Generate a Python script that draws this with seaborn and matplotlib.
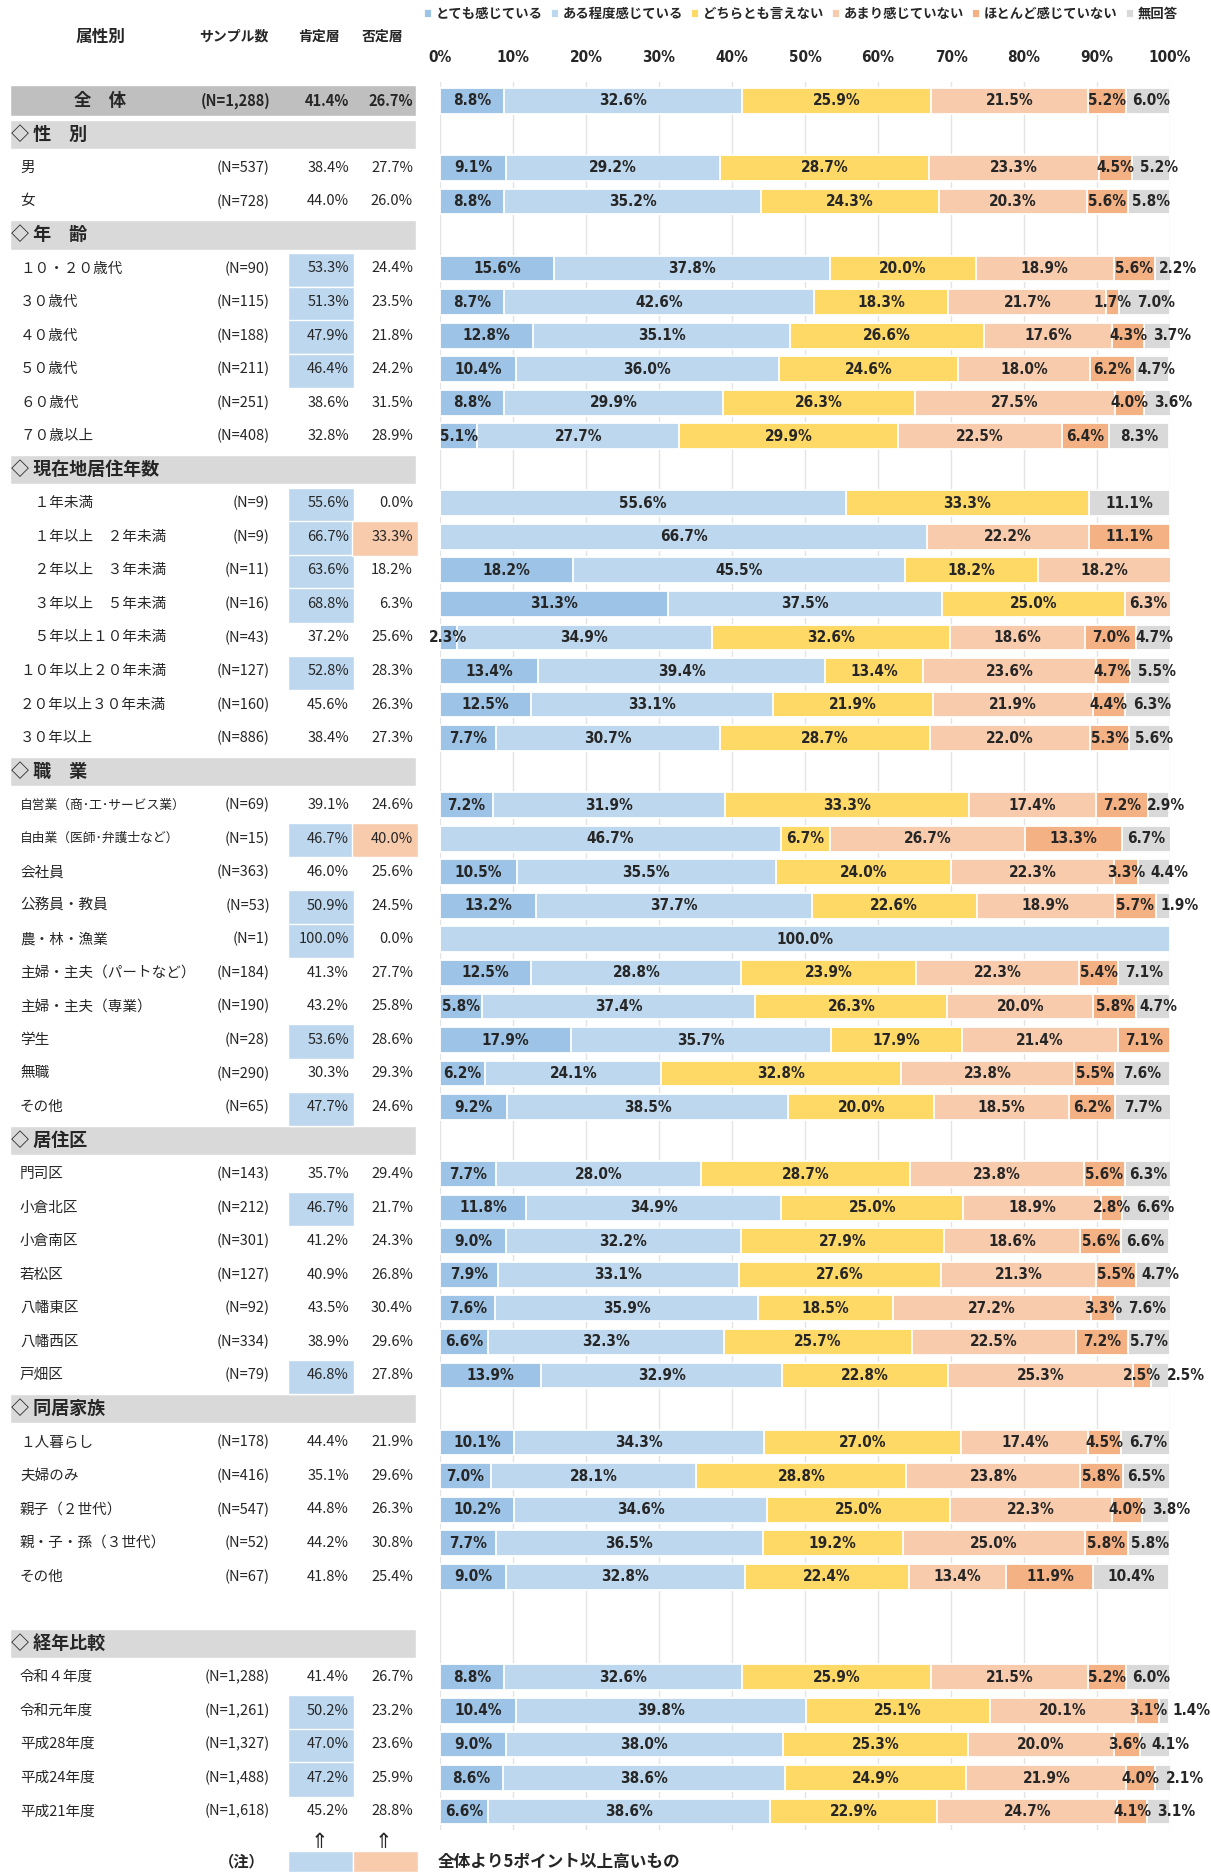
import pandas as pd
import matplotlib.pyplot as plt
import seaborn as sns

# ---------------------- DATA ----------------------
categories = ["とても感じている", "ある程度感じている", "どちらとも言えない",
              "あまり感じていない", "ほとんど感じていない", "無回答"]
colors = ["#9dc3e6", "#bdd7ee", "#ffd966", "#f8cbad", "#f4b183", "#d9d9d9"]

section_titles = ["◇ 性　別", "◇ 年　齢", "◇ 現在地居住年数", "◇ 職　業",
                  "◇ 居住区", "◇ 同居家族", "◇ 経年比較"]
section_sizes = [2, 6, 8, 10, 7, 5, 5]

row_labels = [
    "全　体",
    "男", "女",
    "１０・２０歳代", "３０歳代", "４０歳代", "５０歳代", "６０歳代", "７０歳以上",
    "　１年未満", "　１年以上　２年未満", "　２年以上　３年未満", "　３年以上　５年未満",
    "　５年以上１０年未満", "１０年以上２０年未満", "２０年以上３０年未満", "３０年以上",
    "自営業（商･工･サービス業）", "自由業（医師･弁護士など）", "会社員", "公務員・教員",
    "農・林・漁業", "主婦・主夫（パートなど）", "主婦・主夫（専業）", "学生", "無職", "その他",
    "門司区", "小倉北区", "小倉南区", "若松区", "八幡東区", "八幡西区", "戸畑区",
    "１人暮らし", "夫婦のみ", "親子（２世代）", "親・子・孫（３世代）", "その他",
    "令和４年度", "令和元年度", "平成28年度", "平成24年度", "平成21年度",
]
sample_n = [1288, 537, 728, 90, 115, 188, 211, 251, 408,
            9, 9, 11, 16, 43, 127, 160, 886,
            69, 15, 363, 53, 1, 184, 190, 28, 290, 65,
            143, 212, 301, 127, 92, 334, 79,
            178, 416, 547, 52, 67,
            1288, 1261, 1327, 1488, 1618]
pos_share = [41.4, 38.4, 44.0, 53.3, 51.3, 47.9, 46.4, 38.6, 32.8,
             55.6, 66.7, 63.6, 68.8, 37.2, 52.8, 45.6, 38.4,
             39.1, 46.7, 46.0, 50.9, 100.0, 41.3, 43.2, 53.6, 30.3, 47.7,
             35.7, 46.7, 41.2, 40.9, 43.5, 38.9, 46.8,
             44.4, 35.1, 44.8, 44.2, 41.8,
             41.4, 50.2, 47.0, 47.2, 45.2]
neg_share = [26.7, 27.7, 26.0, 24.4, 23.5, 21.8, 24.2, 31.5, 28.9,
             0.0, 33.3, 18.2, 6.3, 25.6, 28.3, 26.3, 27.3,
             24.6, 40.0, 25.6, 24.5, 0.0, 27.7, 25.8, 28.6, 29.3, 24.6,
             29.4, 21.7, 24.3, 26.8, 30.4, 29.6, 27.8,
             21.9, 29.6, 26.3, 30.8, 25.4,
             26.7, 23.2, 23.6, 25.9, 28.8]

very_much = [8.8, 9.1, 8.8, 15.6, 8.7, 12.8, 10.4, 8.8, 5.1,
             0.0, 0.0, 18.2, 31.3, 2.3, 13.4, 12.5, 7.7,
             7.2, 0.0, 10.5, 13.2, 0.0, 12.5, 5.8, 17.9, 6.2, 9.2,
             7.7, 11.8, 9.0, 7.9, 7.6, 6.6, 13.9,
             10.1, 7.0, 10.2, 7.7, 9.0,
             8.8, 10.4, 9.0, 8.6, 6.6]
somewhat = [32.6, 29.2, 35.2, 37.8, 42.6, 35.1, 36.0, 29.9, 27.7,
            55.6, 66.7, 45.5, 37.5, 34.9, 39.4, 33.1, 30.7,
            31.9, 46.7, 35.5, 37.7, 100.0, 28.8, 37.4, 35.7, 24.1, 38.5,
            28.0, 34.9, 32.2, 33.1, 35.9, 32.3, 32.9,
            34.3, 28.1, 34.6, 36.5, 32.8,
            32.6, 39.8, 38.0, 38.6, 38.6]
neutral = [25.9, 28.7, 24.3, 20.0, 18.3, 26.6, 24.6, 26.3, 29.9,
           33.3, 0.0, 18.2, 25.0, 32.6, 13.4, 21.9, 28.7,
           33.3, 6.7, 24.0, 22.6, 0.0, 23.9, 26.3, 17.9, 32.8, 20.0,
           28.7, 25.0, 27.9, 27.6, 18.5, 25.7, 22.8,
           27.0, 28.8, 25.0, 19.2, 22.4,
           25.9, 25.1, 25.3, 24.9, 22.9]
not_much = [21.5, 23.3, 20.3, 18.9, 21.7, 17.6, 18.0, 27.5, 22.5,
            0.0, 22.2, 18.2, 6.3, 18.6, 23.6, 21.9, 22.0,
            17.4, 26.7, 22.3, 18.9, 0.0, 22.3, 20.0, 21.4, 23.8, 18.5,
            23.8, 18.9, 18.6, 21.3, 27.2, 22.5, 25.3,
            17.4, 23.8, 22.3, 25.0, 13.4,
            21.5, 20.1, 20.0, 21.9, 24.7]
hardly = [5.2, 4.5, 5.6, 5.6, 1.7, 4.3, 6.2, 4.0, 6.4,
          0.0, 11.1, 0.0, 0.0, 7.0, 4.7, 4.4, 5.3,
          7.2, 13.3, 3.3, 5.7, 0.0, 5.4, 5.8, 7.1, 5.5, 6.2,
          5.6, 2.8, 5.6, 5.5, 3.3, 7.2, 2.5,
          4.5, 5.8, 4.0, 5.8, 11.9,
          5.2, 3.1, 3.6, 4.0, 4.1]
no_answer = [6.0, 5.2, 5.8, 2.2, 7.0, 3.7, 4.7, 3.6, 8.3,
             11.1, 0.0, 0.0, 0.0, 4.7, 5.5, 6.3, 5.6,
             2.9, 6.7, 4.4, 1.9, 0.0, 7.1, 4.7, 0.0, 7.6, 7.7,
             6.3, 6.6, 6.6, 4.7, 7.6, 5.7, 2.5,
             6.7, 6.5, 3.8, 5.8, 10.4,
             6.0, 1.4, 4.1, 2.1, 3.1]

# ---------------------- ROW LAYOUT ----------------------
ypos = [0]
head_pos = []
r = 1
for k, size in enumerate(section_sizes):
    if k == len(section_sizes) - 1:
        r += 1  # blank line before 経年比較
    head_pos.append(r)
    r += 1
    ypos += list(range(r, r + size))
    r += size

df = pd.DataFrame({"row": ypos, "label": row_labels, "n": sample_n,
                   "pos": pos_share, "neg": neg_share})
for cat, vals in zip(categories, [very_much, somewhat, neutral, not_much, hardly, no_answer]):
    df[cat] = vals
cum = df[categories].cumsum(axis=1)

ROW0, PITCH = 100.8, 33.54          # pixel centre of row 0 and row pitch
def px2row(px):
    return (px - ROW0) / PITCH

# ---------------------- PLOT CONFIGURATION ----------------------
sns.set_style("white")
JP = ["Noto Sans CJK JP", "DejaVu Sans"]
NUM = ["DejaVu Sans"]
plt.rcParams["font.family"] = JP

W, H = 1211, 1872
fig = plt.figure(figsize=(W / 100, H / 100), dpi=100)

# left table
axt = fig.add_axes([0, 0, 440 / W, 1])
axt.set_xlim(0, 440)
axt.set_ylim(px2row(H), px2row(0))
axt.axis("off")

hy = px2row(37)
axt.text(100, hy, "属性別", ha="center", va="center", fontsize=12, weight="bold")
axt.text(234, hy, "サンプル数", ha="center", va="center", fontsize=10, weight="bold")
axt.text(319, hy, "肯定層", ha="center", va="center", fontsize=10, weight="bold")
axt.text(383, hy, "否定層", ha="center", va="center", fontsize=10, weight="bold")

axt.barh(0, 406, left=9.5, height=0.93, color="#bfbfbf")
axt.barh(head_pos, 406, left=9.5, height=0.87, color="#d9d9d9")
for y, title in zip(head_pos, section_titles):
    axt.text(11, y, title, ha="left", va="center", fontsize=13, weight="bold")

pos_lim = df["pos"][0] + 5
neg_lim = df["neg"][0] + 5
hi_pos = df[df["pos"] >= pos_lim]["row"]
hi_neg = df[df["neg"] >= neg_lim]["row"]
axt.barh(hi_pos + 0.05, 66, left=288, height=1.02, color="#bdd7ee")
axt.barh(hi_neg + 0.05, 66, left=352, height=1.02, color="#f8cbad")

for i, row in df.iterrows():
    y = row["row"]
    if i == 0:
        axt.text(100, y, row["label"], ha="center", va="center", fontsize=12.5, weight="bold")
        w = "bold"
    else:
        fs = 9.2 if "･" in row["label"] else 10.5
        axt.text(20, y, row["label"], ha="left", va="center", fontsize=fs)
        w = "normal"
    axt.text(270, y, f"(N={row['n']:,})", ha="right", va="center", fontsize=10.5, weight=w)
    axt.text(349, y, f"{row['pos']:.1f}%", ha="right", va="center", fontsize=10.5, weight=w)
    axt.text(413, y, f"{row['neg']:.1f}%", ha="right", va="center", fontsize=10.5, weight=w)

# note
ay = px2row(1842)
axt.text(319, ay, "⇑", ha="center", va="center", fontsize=15, family=["DejaVu Sans"])
axt.text(383, ay, "⇑", ha="center", va="center", fontsize=15, family=["DejaVu Sans"])
ny = px2row(1861.5)
axt.barh(ny, 65, left=288, height=21 / PITCH, color="#bdd7ee")
axt.barh(ny, 65, left=353, height=21 / PITCH, color="#f8cbad")
axt.text(242, ny, "（注）", ha="center", va="center", fontsize=11, weight="bold")
fig.text(438 / W, 1 - 1862 / H, "全体より5ポイント以上高いもの", ha="left", va="center",
         fontsize=12, weight="bold")

# right stacked bars (cumulative overlay, widest first)
axb = fig.add_axes([440 / W, (H - 1830) / H, 730 / W, (1830 - 82) / H])
for cat, col in reversed(list(zip(categories, colors))):
    sns.barplot(x=cum[cat], y=df["row"], orient="h", native_scale=True, color=col,
                saturation=1, width=0.77, edgecolor="white", linewidth=1.3,
                errorbar=None, label=cat, ax=axb)

axb.set_xlim(0, 100)
axb.set_ylim(51.55, -0.56)
axb.set_xlabel("")
axb.set_ylabel("")
axb.set_yticks([])
axb.xaxis.tick_top()
axb.set_xticks(range(0, 101, 10))
axb.set_xticklabels([f"{t}%" for t in range(0, 101, 10)], family=NUM, weight="bold",
                    fontsize=11, fontstretch="condensed")
axb.tick_params(axis="x", length=0, pad=12)
axb.grid(axis="x", color="#e4e4e4", linewidth=1)
axb.set_axisbelow(True)
for s in axb.spines.values():
    s.set_visible(False)

# segment labels
for i, row in df.iterrows():
    prev_x = None
    for k, cat in enumerate(categories):
        v = row[cat]
        if v <= 0:
            continue
        x = cum.loc[i, cat] - v / 2
        if k == len(categories) - 1 and prev_x is not None:
            x = max(x, prev_x + 6.0)
        axb.text(x, row["row"], f"{v:.1f}%", ha="center", va="center", family=NUM,
                 weight="bold", fontstretch="condensed", fontsize=11, clip_on=False)
        prev_x = x

# legend
h, l = axb.get_legend_handles_labels()
order = [l.index(c) for c in categories]
fig.legend([h[j] for j in order], categories, loc="center left",
           bbox_to_anchor=(424 / W, 1 - 14 / H), ncol=6, frameon=False,
           handlelength=0.6, handleheight=0.6, handletextpad=0.3, columnspacing=0.6,
           prop=dict(family=JP, weight="bold", size=9.6), borderaxespad=0, borderpad=0)
if axb.get_legend() is not None:
    axb.get_legend().remove()

plt.savefig("out.png", dpi=100)
